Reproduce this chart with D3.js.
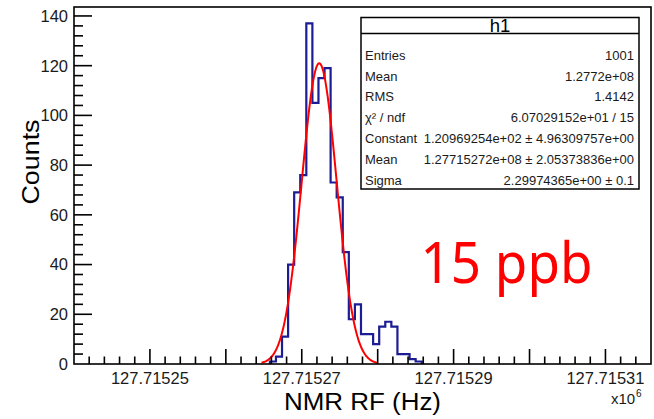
<!DOCTYPE html>
<html>
<head>
<meta charset="utf-8">
<script src="https://d3js.org/d3.v7.min.js"></script>
<style>
  body { margin: 0; background: #fff; }
  svg { display: block; font-family: "Liberation Sans", Arial, sans-serif; }
</style>
</head>
<body>
<svg id="chart" width="654" height="419"></svg>
<script>
// histogram h1: bin contents (counts), bins of 0.8 Hz, first bin low edge below (MHz)
const binStart = 127.7152658;
const binWidth = 0.0000008;
const binCounts = [1, 3, 11, 40, 69, 76, 137, 105, 115, 119, 73, 67, 45, 18, 24, 12, 12, 8, 15, 17, 15, 4, 4, 2, 1];

// gaussian fit
const fitConstant = 120.969254;
const fitMean = 127.7152723;
const fitSigma = 0.0000022997;
const fitRange = [127.7152647, 127.71528];

// axes
const xDomain = [127.71524, 127.715316];
const yDomain = [0, 143.6];
const xTickValues = [127.71525, 127.71527, 127.71529, 127.71531];
const xTickLabels = ["127.71525", "127.71527", "127.71529", "127.71531"];
const yTickValues = [0, 20, 40, 60, 80, 100, 120, 140];

// stats box
const statLabels = ["Entries", "Mean", "RMS", "χ² / ndf", "Constant", "Mean", "Sigma"];
const statValues = ["1001", "1.2772e+08", "1.4142", "6.07029152e+01 / 15",
  "1.20969254e+02 ± 4.96309757e+00", "1.27715272e+08 ± 2.05373836e+00", "2.29974365e+00 ± 0.1"];

const svg = d3.select("#chart");
const frame = { left: 74, top: 7, right: 651, bottom: 364 };

const x = d3.scaleLinear().domain(xDomain).range([frame.left, frame.right]);
const y = d3.scaleLinear().domain(yDomain).range([frame.bottom, frame.top]);

// histogram outline
const edges = d3.range(binCounts.length + 1).map(i => binStart + i * binWidth);
const pts = [[edges[0], 0]];
binCounts.forEach((c, i) => { pts.push([edges[i], c]); pts.push([edges[i + 1], c]); });
pts.push([edges[edges.length - 1], 0]);
svg.append("path")
  .datum(pts)
  .attr("d", d3.line().x(d => x(d[0])).y(d => y(d[1])))
  .attr("fill", "none")
  .attr("stroke", "#1c1c94")
  .attr("stroke-width", 2.2);

// fit curve
const fx = d3.range(0, 201).map(i => fitRange[0] + (fitRange[1] - fitRange[0]) * i / 200);
svg.append("path")
  .datum(fx)
  .attr("d", d3.line()
    .x(d => x(d))
    .y(d => y(fitConstant * Math.exp(-0.5 * Math.pow((d - fitMean) / fitSigma, 2))))
    .curve(d3.curveBasis))
  .attr("fill", "none")
  .attr("stroke", "#ff0000")
  .attr("stroke-width", 2);

// frame
svg.append("rect")
  .attr("x", frame.left).attr("y", frame.top)
  .attr("width", frame.right - frame.left).attr("height", frame.bottom - frame.top)
  .attr("fill", "none").attr("stroke", "#000").attr("stroke-width", 1.6);

// x axis ticks: major every 1e-5, minor every 2e-6
const xAx = svg.append("g");
const minorX = d3.range(0, 39).map(i => 127.71524 + i * 0.000002).filter(v => v > xDomain[0] && v < xDomain[1]);
xAx.selectAll("line.minor").data(minorX).join("line")
  .attr("x1", d => x(d)).attr("x2", d => x(d))
  .attr("y1", frame.bottom).attr("y2", (d, i) => ((i + 1) % 5 === 0) ? frame.bottom - 15 : frame.bottom - 7.5)
  .attr("stroke", "#000").attr("stroke-width", 1.6);
xAx.selectAll("text").data(xTickValues).join("text")
  .attr("x", d => x(d)).attr("y", 384)
  .attr("text-anchor", "middle")
  .attr("font-size", 16.5)
  .attr("fill", "#1a1a1a")
  .text((d, i) => xTickLabels[i]);

svg.append("text")
  .attr("x", 611).attr("y", 404)
  .attr("font-size", 15)
  .attr("fill", "#1a1a1a")
  .text("x10");
svg.append("text")
  .attr("x", 636).attr("y", 397)
  .attr("font-size", 10)
  .attr("fill", "#1a1a1a")
  .text("6");

svg.append("text")
  .attr("x", (frame.left + frame.right) / 2).attr("y", 410)
  .attr("text-anchor", "middle")
  .attr("font-size", 23)
  .attr("textLength", 157).attr("lengthAdjust", "spacingAndGlyphs")
  .text("NMR RF (Hz)");

// y axis ticks
const yAx = svg.append("g");
const minorY = d3.range(4, 144, 4);
yAx.selectAll("line.minor").data(minorY).join("line")
  .attr("x1", frame.left).attr("x2", d => (d % 20 === 0) ? frame.left + 18 : frame.left + 9)
  .attr("y1", d => y(d)).attr("y2", d => y(d))
  .attr("stroke", "#000").attr("stroke-width", 1.6);
yAx.selectAll("text").data(yTickValues).join("text")
  .attr("x", 68).attr("y", d => y(d))
  .attr("dy", "0.36em")
  .attr("text-anchor", "end")
  .attr("font-size", 16.5)
  .attr("fill", "#1a1a1a")
  .text(d => d);

svg.append("text")
  .attr("transform", "translate(39,162) rotate(-90)")
  .attr("text-anchor", "middle")
  .attr("font-size", 23)
  .attr("textLength", 85).attr("lengthAdjust", "spacingAndGlyphs")
  .text("Counts");

// stats box
const box = { x: 361, y: 17.5, w: 278, h: 171.5, head: 16 };
const sb = svg.append("g");
sb.append("rect")
  .attr("x", box.x).attr("y", box.y).attr("width", box.w).attr("height", box.h)
  .attr("fill", "#fff").attr("stroke", "#000").attr("stroke-width", 1.5);
sb.append("line")
  .attr("x1", box.x).attr("x2", box.x + box.w)
  .attr("y1", box.y + box.head).attr("y2", box.y + box.head)
  .attr("stroke", "#000").attr("stroke-width", 1.3);
sb.append("text")
  .attr("x", box.x + box.w / 2).attr("y", box.y + 14)
  .attr("text-anchor", "middle").attr("font-size", 18.5)
  .text("h1");
const rowY = d3.scaleLinear().domain([0, statLabels.length - 1]).range([55, 180]);
sb.selectAll("text.lab").data(statLabels).join("text")
  .attr("class", "lab")
  .attr("x", box.x + 4).attr("y", (d, i) => rowY(i)).attr("dy", "0.36em")
  .attr("font-size", 13).attr("fill", "#1a1a1a")
  .text(d => d);
sb.selectAll("text.val").data(statValues).join("text")
  .attr("class", "val")
  .attr("x", box.x + box.w - 5).attr("y", (d, i) => rowY(i)).attr("dy", "0.36em")
  .attr("text-anchor", "end")
  .attr("font-size", 13).attr("fill", "#1a1a1a")
  .text(d => d);

// annotation
svg.append("text")
  .attr("x", 420.5).attr("y", 282.5)
  .attr("font-family", "'Noto Sans', 'Open Sans', sans-serif")
  .attr("font-size", 57)
  .attr("textLength", 172).attr("lengthAdjust", "spacingAndGlyphs")
  .attr("fill", "#ff0000")
  .text("15 ppb");
</script>
</body>
</html>
